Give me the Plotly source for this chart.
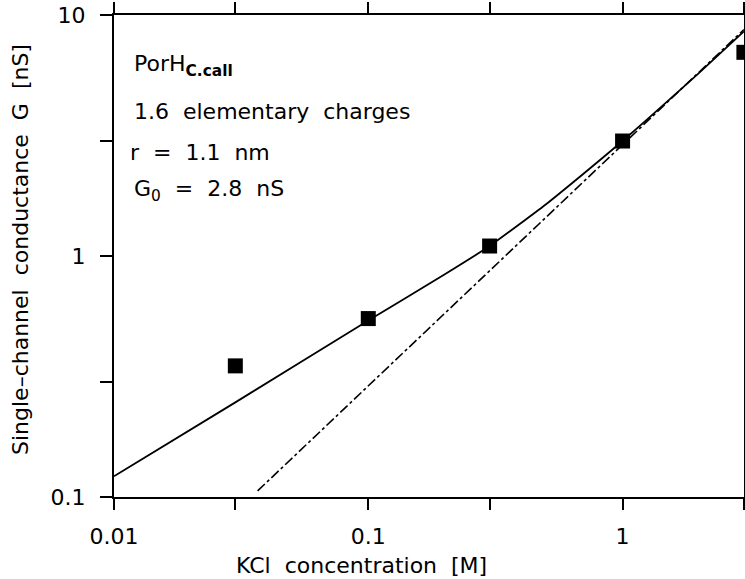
import plotly.graph_objects as go

# Measured data (squares)
kcl_conc = [0.03, 0.1, 0.3, 1.0, 3.0]
conductance = [0.35, 0.55, 1.1, 3.0, 7.0]

# Fitted curve (solid)
fit_conc = [0.01, 0.03, 0.1, 0.2, 0.3, 0.5, 0.7, 1.0, 1.5, 2.0, 3.0]
fit_g = [0.122, 0.247, 0.54, 0.84, 1.1, 1.64, 2.19, 3.0, 4.38, 5.75, 8.55]

# Linear (ideal) dependence, dash-dot
lin_conc = [0.0367, 3.0]
lin_g = [0.106, 8.7]

x_tickvals = [0.01, 0.03, 0.1, 0.3, 1, 3]
x_ticktext = ["0.01", "", "0.1", "", "1", ""]
y_tickvals = [0.1, 0.3, 1, 3, 10]
y_ticktext = ["0.1", "", "1", "", "10"]

FONT = "DejaVu Sans"
NB = "\u00a0"

fig = go.Figure()
fig.add_trace(go.Scatter(x=lin_conc, y=lin_g, mode="lines",
                         line=dict(color="black", width=1.6, dash="10px,3px,3px,3px"),
                         showlegend=False, hoverinfo="skip"))
fig.add_trace(go.Scatter(x=fit_conc, y=fit_g, mode="lines",
                         line=dict(color="black", width=1.8, shape="spline", smoothing=0.5),
                         showlegend=False, hoverinfo="skip"))
fig.add_trace(go.Scatter(x=kcl_conc, y=conductance, mode="markers",
                         marker=dict(symbol="square", size=15, color="black"),
                         showlegend=False, cliponaxis=False))

axis_common = dict(type="log", showline=True, linecolor="black", linewidth=2,
                   mirror="ticks", ticks="outside", tickcolor="black", tickwidth=2,
                   showgrid=False, zeroline=False, automargin=False,
                   tickfont=dict(family=FONT, size=22, color="black"))

fig.update_xaxes(range=[-2, 0.4775], tickvals=x_tickvals, ticktext=x_ticktext,
                 ticklen=11, ticklabelstandoff=8, **axis_common)
fig.update_yaxes(range=[-1, 1], tickvals=y_tickvals, ticktext=y_ticktext,
                 ticklen=12, ticklabelstandoff=10, **axis_common)

def py(p):
    return (497 - p) / 482.0

def px(p):
    return (p - 114) / 630.0

ann_font = dict(family=FONT, size=22, color="black")
anns = [
    ("PorH<sub><b>C.call</b></sub>", 132, 66),
    ("1.6" + NB * 2 + "elementary" + NB * 2 + "charges", 132, 112),
    ("r" + NB * 2 + "=" + NB * 2 + "1.1" + NB * 2 + "nm", 128, 152),
    ("G<sub>0</sub>" + NB * 2 + "=" + NB * 2 + "2.8" + NB * 2 + "nS", 132, 190),
]
for text, x0, y0 in anns:
    fig.add_annotation(text=text, x=px(x0), y=py(y0), xref="paper", yref="paper",
                       xanchor="left", yanchor="middle", showarrow=False, font=ann_font)

fig.add_annotation(text="KCl" + NB * 2 + "concentration" + NB * 2 + "[M]",
                   x=px(361), y=py(565), xref="paper", yref="paper",
                   xanchor="center", yanchor="middle", showarrow=False, font=ann_font)
fig.add_annotation(text="Single\u2013channel" + NB * 2 + "conductance" + NB * 2 + "G" + NB * 2 + "[nS]",
                   x=px(20), y=py(250), xref="paper", yref="paper", textangle=-90,
                   xanchor="center", yanchor="middle", showarrow=False, font=ann_font)

fig.update_layout(width=745, height=579, margin=dict(l=114, r=1, t=15, b=82),
                  plot_bgcolor="white", paper_bgcolor="white")

fig.write_html("out.html")
